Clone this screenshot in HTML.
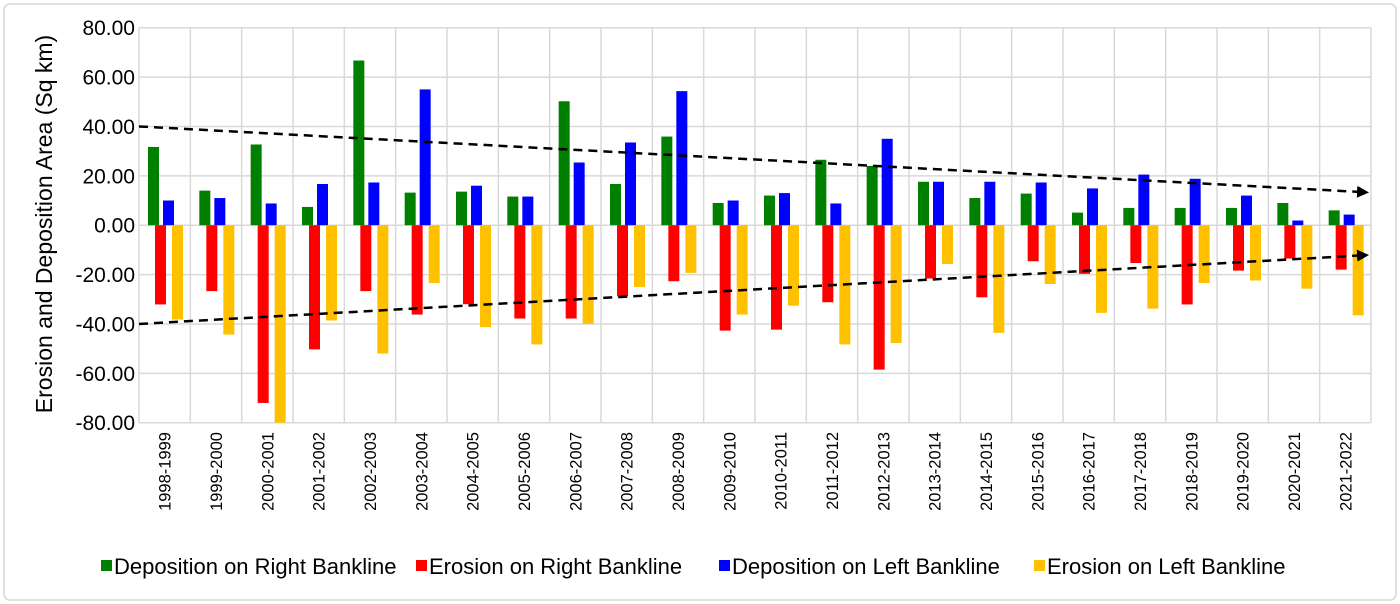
<!DOCTYPE html>
<html><head><meta charset="utf-8"><style>
html,body{margin:0;padding:0;background:#fff;}
svg{display:block;font-family:"Liberation Sans",Arial,sans-serif;}
</style></head><body>
<svg id="chart" width="1400" height="604" viewBox="0 0 1400 604">
<rect x="4" y="4" width="1392" height="596" rx="6" fill="#fff" stroke="#d6d6d6" stroke-width="1.5"/>
<g id="grid"></g>
<g id="bars"></g>
<g id="trends"></g>
<g id="yticks"></g>
<g id="xticks"></g>
<text x="0" y="0" transform="translate(52,224) rotate(-90)" text-anchor="middle" font-size="23" fill="#000">Erosion and Deposition Area (Sq km)</text>
<g font-size="22">
<g><rect x="101" y="560" width="11" height="11" fill="#008000"/><text x="114" y="574">Deposition on Right Bankline</text></g>
<g><rect x="416" y="560" width="11" height="11" fill="#ff0000"/><text x="429" y="574">Erosion on Right Bankline</text></g>
<g><rect x="719" y="560" width="11" height="11" fill="#0000ff"/><text x="732" y="574">Deposition on Left Bankline</text></g>
<g><rect x="1034" y="560" width="11" height="11" fill="#ffc000"/><text x="1047" y="574">Erosion on Left Bankline</text></g>
</g>
</svg>
<script>
const categories=["1998-1999","1999-2000","2000-2001","2001-2002","2002-2003","2003-2004","2004-2005","2005-2006","2006-2007","2007-2008","2008-2009","2009-2010","2010-2011","2011-2012","2012-2013","2013-2014","2014-2015","2015-2016","2016-2017","2017-2018","2018-2019","2019-2020","2020-2021","2021-2022"];
const depRight=[31.7,14,32.7,7.4,66.7,13.2,13.6,11.6,50.2,16.7,35.9,9,12,26.5,24,17.6,11,12.8,5.1,7,7,7,9,6];
const eroRight=[-32.1,-26.7,-72,-50.3,-26.7,-36.2,-32,-37.8,-37.8,-28.8,-22.7,-42.7,-42.3,-31.2,-58.5,-21.6,-29.2,-14.6,-19.7,-15.3,-32.1,-18.4,-13.5,-18];
const depLeft=[10,11,8.8,16.7,17.3,55,16,11.6,25.4,33.5,54.3,10,13,8.8,35,17.6,17.6,17.3,14.9,20.5,18.8,12,1.9,4.3];
const eroLeft=[-38.2,-44.3,-85,-38.6,-52,-23.4,-41.3,-48.3,-40,-25,-19.3,-36.2,-32.6,-48.3,-47.7,-15.7,-43.6,-23.8,-35.5,-33.8,-23.4,-22.4,-25.7,-36.5];
const yTicks=[80,60,40,20,0,-20,-40,-60,-80];
const trendUpper=[40,13.4];
const trendLower=[-40,-12.2];

const NS="http://www.w3.org/2000/svg";
const L=139,R=1371,T=27.7,B=422.7,YMAX=80,YMIN=-80;
const bw=(R-L)/categories.length;
function y(v){v=Math.max(YMIN,Math.min(YMAX,v));return T+(YMAX-v)/(YMAX-YMIN)*(B-T);}
function x(i){return L+i*bw;}
function el(tag,attrs,parent){const e=document.createElementNS(NS,tag);for(const k in attrs)e.setAttribute(k,attrs[k]);parent.appendChild(e);return e;}

const grid=document.getElementById('grid');
yTicks.forEach(t=>{const g=el('line',{x1:L,x2:R,y1:y(t),y2:y(t),stroke:'#d9d9d9','stroke-width':1.5},grid);

});
for(let i=0;i<=categories.length;i++){const g=el('line',{x1:x(i),x2:x(i),y1:T,y2:B,stroke:'#d9d9d9','stroke-width':1.5},grid);

}

const yt=document.getElementById('yticks');
yTicks.forEach(t=>{const tx=el('text',{x:135,y:y(t)+7.5,'text-anchor':'end','font-size':21,fill:'#000'},yt);tx.textContent=t.toFixed(2);

});

const xt=document.getElementById('xticks');
categories.forEach((c,i)=>{const cx=x(i)+bw/2+6;const tx=el('text',{x:0,y:0,transform:`translate(${cx},432) rotate(-90)`,'text-anchor':'end','font-size':16.5,fill:'#000'},xt);tx.textContent=c;

});

const bars=document.getElementById('bars');
const series=[[depRight,'#008000',9,'bar-deposition-right'],[eroRight,'#ff0000',16,'bar-erosion-right'],[depLeft,'#0000ff',24,'bar-deposition-left'],[eroLeft,'#ffc000',33,'bar-erosion-left']];
series.forEach(([vals,col,off,name])=>{vals.forEach((v,i)=>{const y0=y(0),y1=y(v);
const r=el('rect',{x:x(i)+off,y:Math.min(y0,y1),width:11,height:Math.abs(y1-y0),fill:col},bars);

});});

const tr=document.getElementById('trends');
const defs=el('defs',{},tr);
const m=el('marker',{id:'arr',markerWidth:12,markerHeight:12,refX:6,refY:6,orient:'auto',markerUnits:'userSpaceOnUse'},defs);
el('path',{d:'M0,0 L12,6 L0,12 Z',fill:'#000'},m);
[[trendUpper,'trend-line-deposition'],[trendLower,'trend-line-erosion']].forEach(([t,name])=>{
const ln=el('line',{x1:L,y1:y(t[0]),x2:R-8,y2:y(t[1]),stroke:'#000','stroke-width':2.5,'stroke-dasharray':'9,6','marker-end':'url(#arr)'},tr);

});
</script>
</body></html>
